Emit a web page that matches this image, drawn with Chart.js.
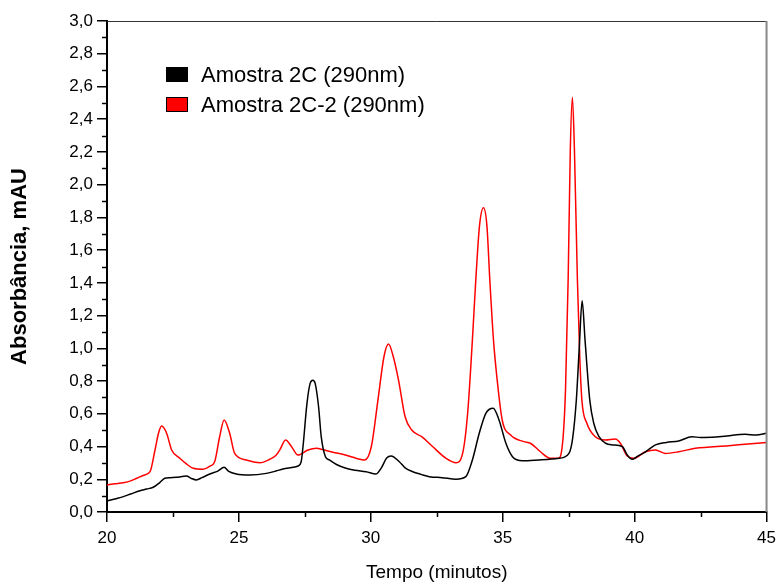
<!DOCTYPE html>
<html lang="pt">
<head>
<meta charset="UTF-8">
<title>Absorbância x Tempo</title>
<script src="https://cdn.jsdelivr.net/npm/chart.js@4.4.0/dist/chart.umd.min.js"></script>
<style>
  html, body { margin: 0; padding: 0; background: #fff; }
  #wrap { width: 782px; height: 584px; }
</style>
</head>
<body>
<div id="wrap"><canvas id="chart" width="782" height="584"></canvas></div>
<script>
// Amostra 2C (290nm) - black trace
var tempo2C = [20.0, 20.3, 20.62, 20.9, 21.25, 21.5, 21.75, 22.0, 22.19, 22.4, 22.63, 23.01, 23.2, 23.39, 23.6, 23.9, 24.2, 24.44, 24.6, 24.9, 25.41, 26.04, 26.4, 26.67, 27.0, 27.24, 27.36, 27.43, 27.58, 27.7, 27.8, 27.89, 28.02, 28.12, 28.28, 28.43, 28.7, 29.06, 29.4, 29.82, 30.2, 30.4, 30.6, 30.77, 31.08, 31.3, 31.59, 31.9, 32.22, 32.7, 33.23, 33.6, 33.85, 34.11, 34.36, 34.64, 34.86, 35.12, 35.37, 35.75, 36.38, 37.13, 37.51, 37.65, 37.79, 37.9, 38.01, 38.12, 38.3, 38.45, 38.65, 38.9, 39.15, 39.53, 39.72, 39.91, 40.1, 40.41, 40.79, 41.2, 41.67, 42.17, 42.5, 42.93, 43.5, 44.19, 44.6, 45.0];
var abs2C = [0.067, 0.08, 0.094, 0.11, 0.13, 0.14, 0.151, 0.18, 0.206, 0.21, 0.212, 0.22, 0.205, 0.196, 0.21, 0.232, 0.25, 0.273, 0.25, 0.232, 0.226, 0.236, 0.25, 0.263, 0.272, 0.281, 0.307, 0.4, 0.664, 0.786, 0.805, 0.786, 0.643, 0.46, 0.338, 0.318, 0.29, 0.267, 0.255, 0.246, 0.232, 0.27, 0.33, 0.342, 0.307, 0.27, 0.246, 0.23, 0.216, 0.21, 0.2, 0.216, 0.318, 0.481, 0.603, 0.634, 0.562, 0.42, 0.338, 0.313, 0.318, 0.328, 0.358, 0.45, 0.684, 1.0, 1.29, 1.05, 0.684, 0.542, 0.46, 0.42, 0.41, 0.4, 0.348, 0.322, 0.34, 0.368, 0.41, 0.425, 0.434, 0.46, 0.455, 0.456, 0.465, 0.475, 0.47, 0.481];

// Amostra 2C-2 (290nm) - red trace
var tempo2C2 = [20.0, 20.3, 20.62, 20.9, 21.13, 21.4, 21.63, 21.82, 21.95, 22.07, 22.26, 22.45, 22.76, 23.0, 23.27, 23.64, 23.9, 24.08, 24.27, 24.44, 24.65, 24.84, 25.28, 25.79, 26.17, 26.4, 26.55, 26.77, 26.99, 27.24, 27.62, 27.94, 28.2, 28.56, 29.0, 29.32, 29.77, 30.02, 30.27, 30.5, 30.67, 30.85, 31.05, 31.3, 31.55, 31.93, 32.34, 32.85, 33.23, 33.48, 33.67, 33.85, 33.98, 34.12, 34.27, 34.4, 34.51, 34.65, 34.79, 34.98, 35.3, 35.8, 36.05, 36.43, 36.81, 37.12, 37.29, 37.38, 37.48, 37.56, 37.64, 37.72, 37.83, 37.92, 38.0, 38.19, 38.51, 38.89, 39.27, 39.46, 39.72, 39.97, 40.41, 40.79, 41.16, 41.67, 42.3, 43.56, 44.3, 45.0];
var abs2C2 = [0.165, 0.172, 0.179, 0.19, 0.206, 0.225, 0.246, 0.379, 0.48, 0.525, 0.481, 0.379, 0.328, 0.295, 0.267, 0.261, 0.28, 0.307, 0.46, 0.562, 0.481, 0.358, 0.318, 0.301, 0.322, 0.345, 0.379, 0.44, 0.4, 0.348, 0.379, 0.389, 0.38, 0.365, 0.35, 0.334, 0.318, 0.4, 0.684, 0.95, 1.026, 0.95, 0.806, 0.582, 0.501, 0.46, 0.4, 0.328, 0.301, 0.358, 0.603, 1.05, 1.42, 1.75, 1.859, 1.75, 1.42, 1.05, 0.806, 0.562, 0.47, 0.43, 0.42, 0.368, 0.328, 0.328, 0.46, 0.75, 1.42, 2.2, 2.534, 2.2, 1.42, 0.95, 0.684, 0.542, 0.46, 0.44, 0.446, 0.42, 0.342, 0.328, 0.368, 0.379, 0.358, 0.368, 0.389, 0.405, 0.415, 0.424];

var minorX = [22.5, 27.5, 32.5, 37.5, 42.5];
var minorY = [0.1, 0.3, 0.5, 0.7, 0.9, 1.1, 1.3, 1.5, 1.7, 1.9, 2.1, 2.3, 2.5, 2.7, 2.9];

function pares(xs, ys) {
    return xs.map(function (x, i) { return { x: x, y: ys[i] }; });
}

var fonte = "'Liberation Sans', Arial, sans-serif";

// moldura de cima/direita, ticks menores e legenda dentro do gráfico
var extras = {
    id: 'extras',
    afterDraw: function (chart) {
        var ctx = chart.ctx;
        var a = chart.chartArea;
        var sx = chart.scales.x, sy = chart.scales.y;
        ctx.save();
        ctx.strokeStyle = '#333';
        ctx.lineWidth = 1;
        ctx.beginPath();
        ctx.moveTo(a.left, a.top + 0.5);
        ctx.lineTo(a.right, a.top + 0.5);
        ctx.stroke();
        ctx.strokeStyle = '#888';
        ctx.lineWidth = 2;
        ctx.beginPath();
        ctx.moveTo(a.right, a.top);
        ctx.lineTo(a.right, a.bottom);
        ctx.stroke();

        ctx.strokeStyle = '#000';
        ctx.lineWidth = 1.5;
        minorY.forEach(function (v) {
            var y = Math.round(sy.getPixelForValue(v)) + 0.5;
            ctx.beginPath();
            ctx.moveTo(a.left - 5, y);
            ctx.lineTo(a.left, y);
            ctx.stroke();
        });
        minorX.forEach(function (v) {
            var x = Math.round(sx.getPixelForValue(v)) + 0.5;
            ctx.beginPath();
            ctx.moveTo(x, a.bottom);
            ctx.lineTo(x, a.bottom + 5);
            ctx.stroke();
        });

        // legenda
        ctx.font = '22px ' + fonte;
        ctx.textBaseline = 'alphabetic';
        chart.data.datasets.forEach(function (ds, i) {
            var y0 = 67 + i * 30;
            ctx.fillStyle = ds.borderColor;
            ctx.fillRect(166, y0, 22, 15);
            ctx.strokeStyle = '#000';
            ctx.lineWidth = 1;
            ctx.strokeRect(166.5, y0 + 0.5, 21, 14);
            ctx.fillStyle = '#000';
            ctx.fillText(ds.label, 201, y0 + 15);
        });
        ctx.restore();
    }
};

new Chart(document.getElementById('chart'), {
    type: 'line',
    data: {
        datasets: [{
            label: 'Amostra 2C (290nm)',
            data: pares(tempo2C, abs2C),
            borderColor: '#000000',
            backgroundColor: '#000000',
            borderWidth: 1.5,
            pointRadius: 0,
            cubicInterpolationMode: 'monotone'
        }, {
            label: 'Amostra 2C-2 (290nm)',
            data: pares(tempo2C2, abs2C2),
            borderColor: '#ff0000',
            backgroundColor: '#ff0000',
            borderWidth: 1.5,
            pointRadius: 0,
            cubicInterpolationMode: 'monotone'
        }]
    },
    options: {
        responsive: false,
        animation: false,
        layout: { padding: { top: 21, right: 14, left: 0, bottom: 0 } },
        plugins: {
            legend: { display: false },
            tooltip: { enabled: false }
        },
        scales: {
            x: {
                type: 'linear',
                min: 20,
                max: 45,
                afterFit: function (s) { s.height = 72; },
                ticks: {
                    stepSize: 5,
                    color: '#000',
                    padding: 6,
                    maxRotation: 0,
                    font: { family: fonte, size: 17 }
                },
                grid: { drawOnChartArea: false, tickLength: 10, color: '#000', lineWidth: 1.5 },
                border: { color: '#000', width: 2 },
                title: {
                    display: true,
                    text: 'Tempo (minutos)',
                    color: '#000',
                    padding: { top: 0, bottom: 0 },
                    font: { family: fonte, size: 19 }
                }
            },
            y: {
                min: 0,
                max: 3,
                afterFit: function (s) { s.width = 107; },
                ticks: {
                    stepSize: 0.2,
                    color: '#000',
                    padding: 4,
                    font: { family: fonte, size: 17 },
                    callback: function (v) { return Number(v).toFixed(1).replace('.', ','); }
                },
                grid: { drawOnChartArea: false, tickLength: 10, color: '#000', lineWidth: 1.5 },
                border: { color: '#000', width: 2 },
                title: {
                    display: true,
                    text: 'Absorbância, mAU',
                    color: '#000',
                    padding: { top: 7, bottom: 0 },
                    font: { family: fonte, size: 22, weight: 'bold' }
                }
            }
        }
    },
    plugins: [extras]
});
</script>
</body>
</html>
